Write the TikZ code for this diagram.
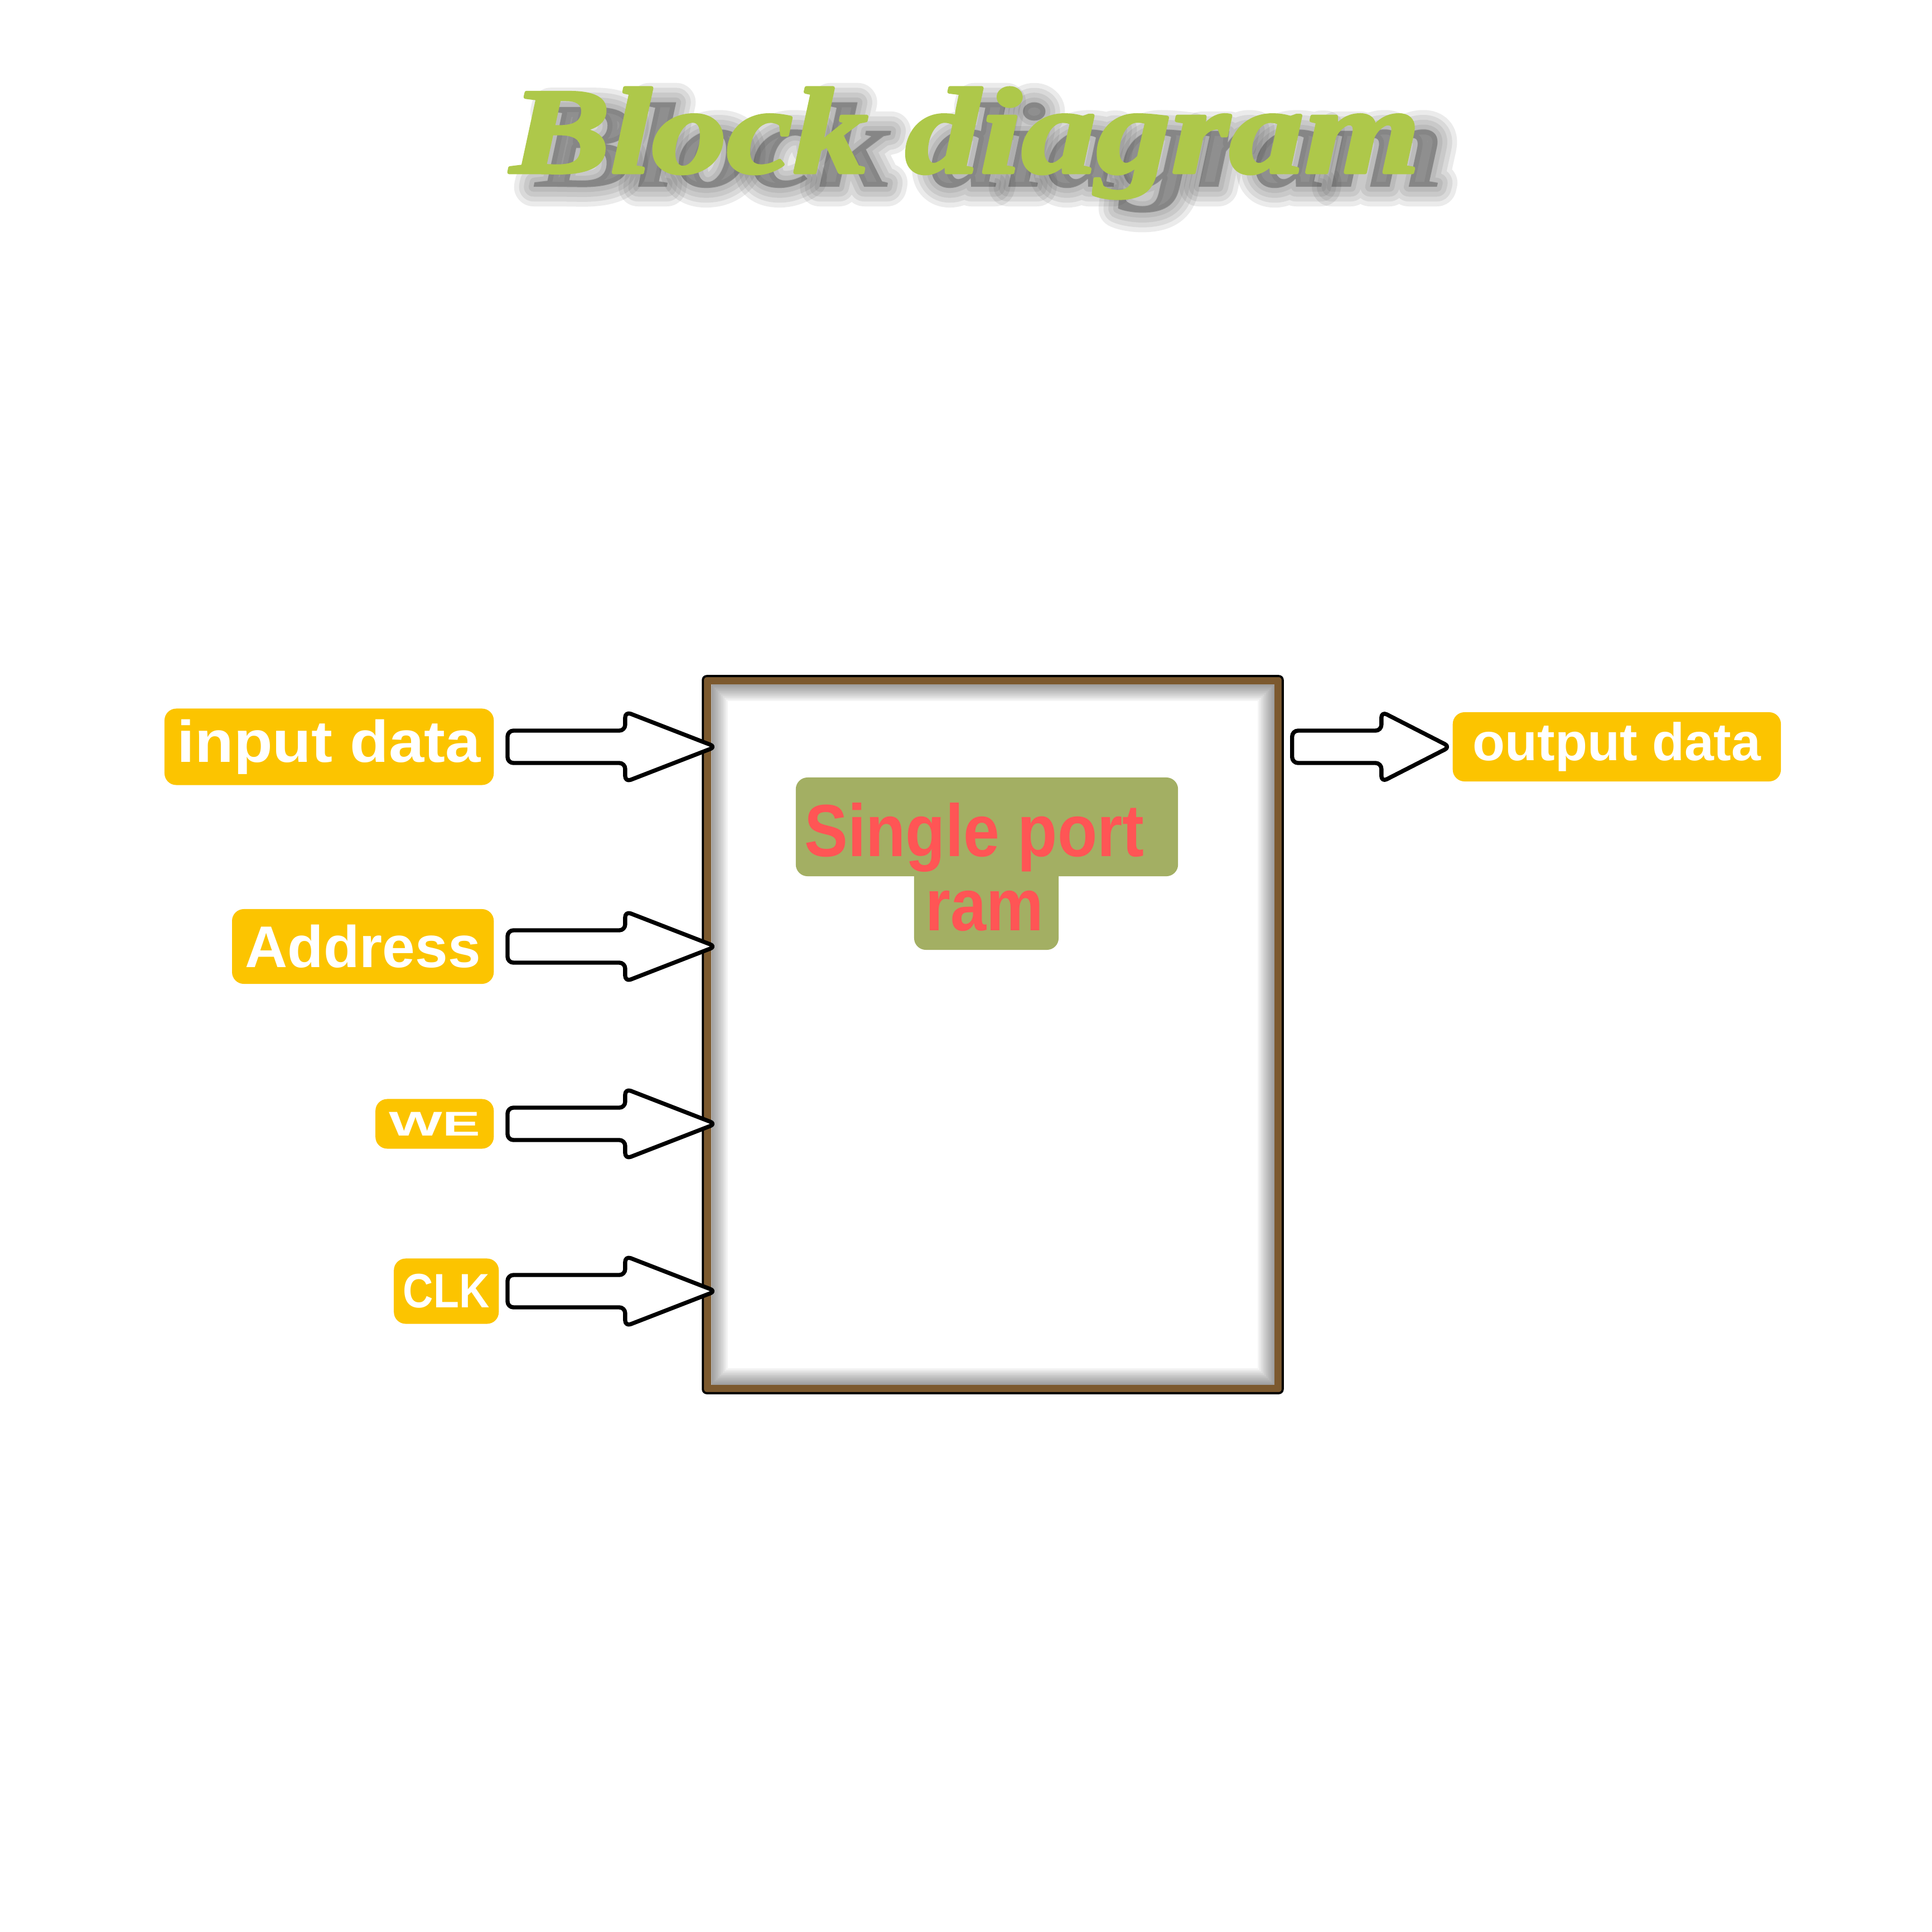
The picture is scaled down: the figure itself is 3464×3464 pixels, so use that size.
\documentclass[tikz,border=0pt]{standalone}
\usepackage{fontspec}
\setmainfont{Liberation Sans}
\newfontfamily\titlefont{Liberation Serif}[FakeStretch=1.23]
\usetikzlibrary{calc, positioning}
\definecolor{titlegreen}{RGB}{174,200,74}
\definecolor{lblyellow}{RGB}{252,196,0}
\definecolor{ramgreen}{RGB}{163,175,99}
\definecolor{ramred}{RGB}{255,85,85}
\definecolor{framebrown}{RGB}{124,89,46}
\tikzset{
	x=0.01cm, y=-0.01cm, % one unit is one pixel, y runs downwards
	titletext/.style={anchor=base, inner sep=0pt, font=\titlefont\bfseries\itshape\fontsize{62}{70}\selectfont}, % heading
	lbl/.style={fill=lblyellow, rounded corners=6pt, text=white, inner sep=0pt, font=\bfseries}, % yellow signal label
	ramtext/.style={anchor=base, inner sep=0pt, text=ramred, font=\bfseries\fontsize{37.7}{38}\selectfont}, % red block name
	rampatch/.style={fill=ramgreen, rounded corners=6pt, inner sep=0pt}, % green patch behind the name
	blockarrow/.style 2 args={draw=black, fill=white, line width=2.1pt, rounded corners=3pt, line join=round,
		to path={let \p1=($(\tikztostart)+(#1,0)$), \p2=($(\tikztotarget)+(#2,0)$), \p3=($(\p1)!0.565!(\p2)$) in
			($(\p1)+(0,-29)$) -- ($(\p3)+(0,-29)$) -- ($(\p3)+(0,-63)$) -- (\p2)
			-- ($(\p3)+(0,63)$) -- ($(\p3)+(0,29)$) -- ($(\p1)+(0,29)$) -- cycle}}, % hollow block arrow
}

\begin{document}
\begin{tikzpicture}
		\fill[white] (0,0) rectangle (3464,3464);
		\useasboundingbox (0,0) rectangle (3464,3464);
		
		% heading with a soft shadow
		\begin{scope}[line join=round, opacity=0.1]
		\node[titletext, text=black!75] (shd) at (1775,335) {Block diagram};
		\foreach \b in {8,16,24,32}
		\node[titletext, text=black!75, font=\titlefont\bfseries\itshape\fontsize{62}{70}\selectfont\addfontfeature{FakeBold=\b}] (shd\b) at (1775,335) {Block diagram};
		\end{scope}
		\begin{scope}[line join=round]
		\node[titletext, text=titlegreen, font=\titlefont\bfseries\itshape\fontsize{62}{70}\selectfont\addfontfeature{FakeBold=3}] (title) at (1731,309) {Block diagram};
		\end{scope}
		
		% the memory block
		\node[draw=black, line width=1.1pt, fill=framebrown, rounded corners=2pt, minimum width=10.39cm, minimum height=12.85cm] (ram) at (1780,1855) {};
		\fill[white] ($(ram.north west)+(17,17)$) rectangle ($(ram.south east)+(-17,-17)$);
		\begin{scope}
		\clip ($(ram.north west)+(17,17)$) rectangle ($(ram.south east)+(-17,-17)$);
		\foreach \w in {2,4,...,20}
		\draw[black, opacity=0.045, line width=\w*0.85pt] ($(ram.north west)+(17,17)$) rectangle ($(ram.south east)+(-17,-17)$);
		\end{scope}
		
		\node[rampatch, minimum width=6.85cm, minimum height=1.77cm] (ramtop) at (1769.5,1482.5) {};
		\node[rampatch, minimum width=2.59cm, minimum height=1.63cm] (rambot) at (1768.5,1621.5) {};
		\fill[ramgreen] (rambot.north west) rectangle ([yshift=-8pt]rambot.north east);
		\node[ramtext, font=\bfseries\fontsize{37.7}{38}\selectfont\addfontfeature{FakeStretch=0.88}] (ramname) at (1747,1535) {Single port};
		\node[ramtext, font=\bfseries\fontsize{37.7}{38}\selectfont\addfontfeature{FakeStretch=0.87}] (ramkind) at (1765,1668) {ram};
		
		% signal labels
		\node[lbl, anchor=east, minimum width=5.90cm, minimum height=1.37cm] (inp) at (886,1339) {\fontsize{30}{36}\selectfont\scalebox{1.08}[1]{input data}};
		\node[lbl, anchor=east, minimum width=4.69cm, minimum height=1.34cm] (adr) at (886,1697) {\fontsize{30}{36}\selectfont Address};
		\node[lbl, anchor=east, minimum width=2.12cm, minimum height=0.89cm] (we) at (886,2015) {\fontsize{17.5}{20}\selectfont\scalebox{1.65}[1]{WE}};
		\node[lbl, anchor=east, minimum width=1.88cm, minimum height=1.17cm] (clk) at (895,2315) {\fontsize{24.6}{28}\selectfont\scalebox{0.87}[1]{CLK}};
		\node[lbl, anchor=west, minimum width=5.88cm, minimum height=1.24cm] (outp) at (2604,1339) {\fontsize{27}{32}\selectfont output data};
		
		% arrows into and out of the block
		\draw[blockarrow={24}{25}] (inp.east) to (ram.west |- inp.east);
		\draw[blockarrow={24}{25}] (adr.east) to (ram.west |- adr.east);
		\draw[blockarrow={24}{25}] (we.east) to (ram.west |- we.east);
		\draw[blockarrow={15}{25}] (clk.east) to (ram.west |- clk.east);
		\draw[blockarrow={15}{-4}] (ram.east |- outp.west) to (outp.west);
\end{tikzpicture}
\end{document}
